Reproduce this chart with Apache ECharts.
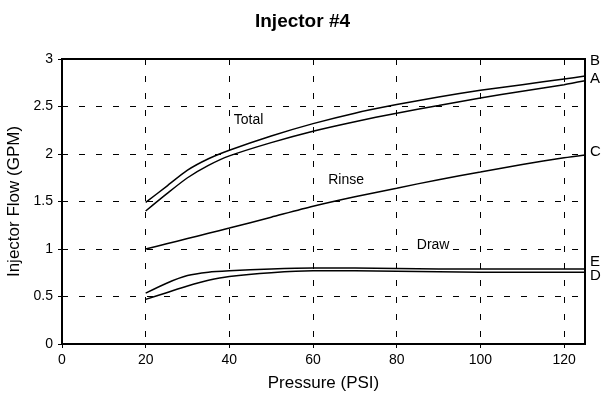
<!DOCTYPE html>
<html>
<head>
<meta charset="utf-8">
<script src="https://cdn.jsdelivr.net/npm/echarts@6/dist/echarts.min.js"></script>
<style>
  html, body { margin: 0; padding: 0; background: #fff; }
  #chart { width: 605px; height: 402px; }
</style>
</head>
<body>
<div id="chart"></div>
<script>
// pressure points (PSI)
const pressure = [20, 25, 30, 35, 40, 50, 60, 70, 80, 90, 100, 110, 120, 125];
// flow curves (GPM)
const flowB = [1.49, 1.66, 1.83, 1.95, 2.04, 2.19, 2.32, 2.43, 2.52, 2.60, 2.67, 2.73, 2.79, 2.82];
const flowA = [1.40, 1.58, 1.75, 1.88, 1.98, 2.12, 2.24, 2.34, 2.43, 2.51, 2.59, 2.66, 2.73, 2.77];
const flowC = [1.00, 1.055, 1.11, 1.165, 1.22, 1.335, 1.45, 1.55, 1.64, 1.73, 1.81, 1.89, 1.96, 1.99];
const flowE = [0.535, 0.64, 0.72, 0.755, 0.77, 0.79, 0.80, 0.80, 0.795, 0.79, 0.79, 0.79, 0.79, 0.79];
const flowD = [0.47, 0.54, 0.61, 0.67, 0.71, 0.75, 0.77, 0.77, 0.765, 0.76, 0.755, 0.755, 0.755, 0.755];
const curveNames = ['B', 'A', 'C', 'E', 'D'];
// text notes inside the plot: [x, y, text]
const notes = [[44.6, 2.36, 'Total'], [67.9, 1.73, 'Rinse'], [88.7, 1.04, 'Draw']];

const curves = [flowB, flowA, flowC, flowE, flowD];
const labelShift = [-15, -2, -3, -7, 4];
const font = 'Liberation Sans, Arial, sans-serif';

let myChart = echarts.init(document.getElementById('chart'));

let series = curves.map((vals, i) => ({
    name: curveNames[i],
    type: 'line',
    smooth: 0.25,
    symbol: 'none',
    lineStyle: { color: '#000', width: 1.5 },
    endLabel: {
        show: true,
        formatter: '{a}',
        color: '#000',
        fontSize: 15,
        fontFamily: font,
        distance: 5,
        offset: [0, labelShift[i]]
    },
    data: pressure.map((p, j) => [p, vals[j]])
}));

series.push({
    type: 'scatter',
    symbolSize: 0,
    silent: true,
    itemStyle: { opacity: 1 },
    label: {
        show: true,
        position: 'inside',
        formatter: p => p.value[2],
        color: '#000',
        fontSize: 14,
        fontFamily: font,
        backgroundColor: '#fff',
        padding: [0, 2]
    },
    data: notes
});

let option = {
    animation: false,
    backgroundColor: '#fff',
    title: {
        text: 'Injector #4',
        left: 'center',
        top: 7,
        textStyle: { fontSize: 19, fontWeight: 'bold', color: '#000', fontFamily: font }
    },
    grid: {
        left: 62,
        right: 20,
        top: 59,
        bottom: 58,
        outerBoundsMode: 'none',
        show: true,
        borderColor: '#000',
        borderWidth: 2
    },
    xAxis: {
        type: 'value',
        min: 0,
        max: 125,
        interval: 20,
        name: 'Pressure (PSI)',
        nameLocation: 'middle',
        nameGap: 31,
        nameTextStyle: { fontSize: 17, color: '#000', fontFamily: font },
        axisLine: { lineStyle: { color: '#000', width: 2 } },
        axisTick: { show: true, length: 4, lineStyle: { color: '#000' } },
        axisLabel: {
            color: '#000',
            fontSize: 14,
            fontFamily: font,
            margin: 9,
            showMaxLabel: false,
            formatter: v => (v % 20 === 0 ? v : '')
        },
        splitLine: { show: true, lineStyle: { color: '#000', width: 1, type: [6, 11] } }
    },
    yAxis: {
        type: 'value',
        min: 0,
        max: 3,
        interval: 0.5,
        name: 'Injector Flow (GPM)',
        nameLocation: 'middle',
        nameGap: 35,
        nameTextStyle: { fontSize: 17, color: '#000', fontFamily: font },
        axisLine: { show: true, lineStyle: { color: '#000', width: 2 } },
        axisTick: { show: true, length: 4, lineStyle: { color: '#000' } },
        axisLabel: { color: '#000', fontSize: 14, fontFamily: font, margin: 9 },
        splitLine: { show: true, lineStyle: { color: '#000', width: 1, type: [6, 11] } }
    },
    series: series
};
option && myChart.setOption(option);
</script>
</body>
</html>
